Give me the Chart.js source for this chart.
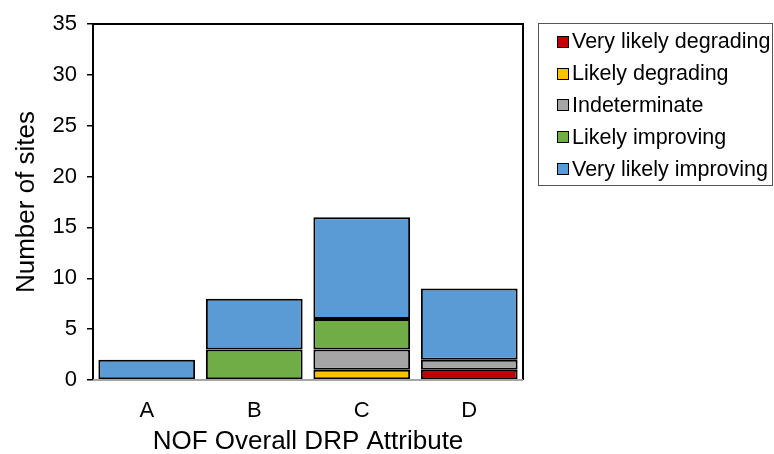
<!DOCTYPE html>
<html>
<head>
<meta charset="utf-8">
<script src="https://cdn.jsdelivr.net/npm/chart.js@4"></script>
<style>
  body { margin: 0; background: #fff; }
  #wrap { position: relative; width: 774px; height: 454px; }
  #legend {
    position: absolute; left: 538px; top: 23px; width: 235px; height: 163px;
    border: 1px solid #555; box-sizing: border-box;
    font-family: "Liberation Sans", Arial, sans-serif; font-size: 21.5px; color: #000;
    padding-top: 2px;
  }
  .item { height: 31.8px; display: flex; align-items: center; padding-left: 18px; white-space: nowrap; }
  .sw { width: 10px; height: 10px; border: 1.5px solid #000; margin-right: 3px; flex: none; }
</style>
</head>
<body>
<div id="wrap">
  <canvas id="chart" width="774" height="454"></canvas>
  <div id="legend"></div>
</div>
<script>
const categories = ["A", "B", "C", "D"];
const seriesNames = ["Very likely degrading", "Likely degrading", "Indeterminate", "Likely improving", "Very likely improving"];
const seriesColors = ["#C00000", "#FFC000", "#A5A5A5", "#70AD47", "#5B9BD5"];
const veryLikelyDegrading = [0, 0, 0, 1];
const likelyDegrading = [0, 0, 1, 0];
const indeterminate = [0, 0, 2, 1];
const likelyImproving = [0, 3, 3, 0];
const veryLikelyImproving = [2, 5, 10, 7];
const seriesValues = [veryLikelyDegrading, likelyDegrading, indeterminate, likelyImproving, veryLikelyImproving];

const font = "Liberation Sans";

// frame round the plot area, grey base line
const framePlugin = {
  id: "frame",
  afterDatasetsDraw(chart) {
    const { ctx, chartArea: a } = chart;
    ctx.save();
    ctx.strokeStyle = "#000";
    ctx.lineWidth = 2;
    ctx.beginPath();
    ctx.moveTo(a.left, a.bottom);
    ctx.lineTo(a.left, a.top);
    ctx.lineTo(a.right, a.top);
    ctx.lineTo(a.right, a.bottom);
    ctx.stroke();
    ctx.strokeStyle = "#A6A6A6";
    ctx.beginPath();
    ctx.moveTo(a.left, a.bottom);
    ctx.lineTo(a.right, a.bottom);
    ctx.stroke();
    ctx.restore();
  }
};

new Chart(document.getElementById("chart"), {
  type: "bar",
  data: {
    labels: categories,
    datasets: seriesNames.map((name, i) => ({
      label: name,
      data: seriesValues[i].map(v => v === 0 ? null : v),
      backgroundColor: seriesColors[i],
      borderColor: "#000",
      borderWidth: 2,
      borderSkipped: false,
      barPercentage: 0.9,
      categoryPercentage: 1
    }))
  },
  options: {
    responsive: false,
    animation: false,
    layout: { padding: { top: 24, right: 251, left: 0, bottom: 0 } },
    plugins: { legend: { display: false }, tooltip: { enabled: false } },
    scales: {
      x: {
        stacked: true,
        grid: { display: false },
        border: { display: false },
        ticks: { color: "#000", font: { family: font, size: 22 }, padding: 10 },
        title: { display: true, text: "NOF Overall DRP Attribute", color: "#000", font: { family: font, size: 26 }, padding: { top: 0, bottom: -3 } },
        afterFit(s) { s.height = 74; }
      },
      y: {
        stacked: true,
        min: 0,
        max: 35,
        ticks: { stepSize: 5, color: "#000", font: { family: font, size: 22 }, padding: 10 },
        grid: { drawOnChartArea: false, tickLength: 6, color: "#000", lineWidth: 1.5 },
        border: { display: true, color: "#000", width: 2 },
        title: { display: true, text: "Number of sites", color: "#000", font: { family: font, size: 26 }, padding: { top: 11, bottom: 0 } },
        afterFit(s) { s.width = 93; }
      }
    }
  },
  plugins: [framePlugin]
});

const legend = document.getElementById("legend");
seriesNames.forEach((name, i) => {
  const row = document.createElement("div");
  row.className = "item";
  row.innerHTML = '<span class="sw" style="background:' + seriesColors[i] + '"></span>' + name;
  legend.appendChild(row);
});
</script>
</body>
</html>
